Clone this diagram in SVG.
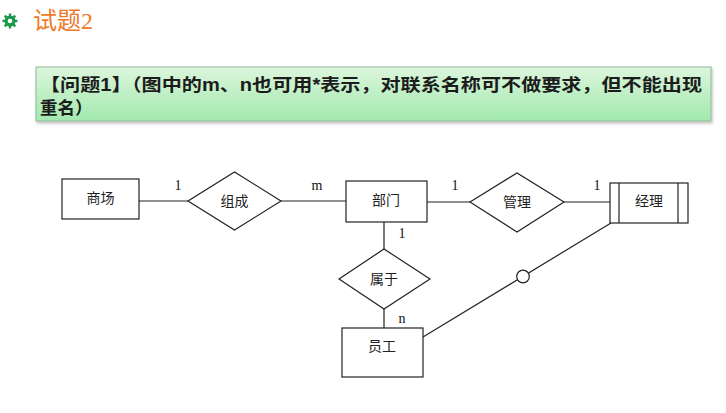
<svg xmlns="http://www.w3.org/2000/svg" width="726" height="413" viewBox="0 0 726 413">
<defs>
<linearGradient id="bg" x1="0" y1="0" x2="0" y2="1">
<stop offset="0" stop-color="#dcf6dc"/>
<stop offset="1" stop-color="#a2e9ae"/>
</linearGradient>
<filter id="sh" x="-5%" y="-20%" width="110%" height="150%">
<feDropShadow dx="1" dy="2" stdDeviation="1.5" flood-color="#000" flood-opacity="0.25"/>
</filter>
<style>
.e{fill:#fff;stroke:#222;stroke-width:1.2}
.c{stroke:#222;stroke-width:1.2;fill:none}
.t{font-family:"Liberation Serif","Noto Sans CJK SC",serif;font-size:14px;fill:#222;text-anchor:middle;dominant-baseline:central}
.l{font-family:"Liberation Serif","Noto Sans CJK SC",serif;font-size:14px;fill:#111;text-anchor:middle}
.b{font-family:"Liberation Sans","Noto Sans CJK SC",sans-serif;font-size:17.5px;font-weight:bold;fill:#1c1c1c}
</style>
</defs>
<rect width="726" height="413" fill="#fff"/>
<g id="title">
<g transform="translate(10,21)" fill="#1a9a4a">
<circle r="5.5"/>
<g stroke="#1a9a4a" stroke-width="2.4">
<line x1="-7.5" y1="0" x2="7.5" y2="0"/><line x1="0" y1="-7.5" x2="0" y2="7.5"/>
<line x1="-5.3" y1="-5.3" x2="5.3" y2="5.3"/><line x1="-5.3" y1="5.3" x2="5.3" y2="-5.3"/>
</g>
<circle r="2.3" fill="#fff"/>
</g>
<text x="33" y="29" font-family="Liberation Serif,'Noto Sans CJK SC',serif" font-size="24" fill="#ee7a2a">试题2</text>
</g>
<g id="banner">
<rect x="36" y="67" width="675" height="54" fill="url(#bg)" stroke="#8fb89a" stroke-width="1" filter="url(#sh)"/>
<text class="b" x="40" y="91" textLength="662" lengthAdjust="spacingAndGlyphs">【问题1】（图中的m、n也可用*表示，对联系名称可不做要求，但不能出现</text>
<text class="b" x="40" y="114">重名）</text>
</g>
<g id="connectors">
<line class="c" x1="139" y1="201" x2="188" y2="201"/>
<line class="c" x1="281" y1="201" x2="346" y2="201"/>
<line class="c" x1="427" y1="202" x2="470" y2="202"/>
<line class="c" x1="564" y1="202" x2="610" y2="202"/>
<line class="c" x1="384" y1="222" x2="384" y2="249"/>
<line class="c" x1="384" y1="309" x2="384" y2="328"/>
<line class="c" x1="423" y1="337" x2="611" y2="223"/>
<circle cx="523" cy="276.5" r="6.3" fill="#fff" stroke="#222" stroke-width="1.2"/>
<text class="l" x="178" y="190">1</text>
<text class="l" x="317" y="190">m</text>
<text class="l" x="455" y="190">1</text>
<text class="l" x="597" y="190">1</text>
<text class="l" x="402" y="238">1</text>
<text class="l" x="402" y="323">n</text>
</g>
<g id="shangchang">
<rect class="e" x="62" y="179" width="77" height="40"/>
<text class="t" x="100.5" y="198">商场</text>
</g>
<g id="zucheng">
<polygon class="e" points="188,201 234.5,172 281,201 234.5,230"/>
<text class="t" x="234.5" y="201">组成</text>
</g>
<g id="bumen">
<rect class="e" x="346" y="181" width="81" height="41"/>
<text class="t" x="386" y="200">部门</text>
</g>
<g id="guanli">
<polygon class="e" points="470,202 517,173 564,202 517,232"/>
<text class="t" x="517" y="202">管理</text>
</g>
<g id="jingli">
<rect class="e" x="610" y="183" width="78" height="40"/>
<line class="c" x1="619" y1="183" x2="619" y2="223"/>
<line class="c" x1="678" y1="183" x2="678" y2="223"/>
<text class="t" x="649" y="201">经理</text>
</g>
<g id="shuyu">
<polygon class="e" points="339,279 384,249 430,279 384,309"/>
<text class="t" x="384" y="279">属于</text>
</g>
<g id="yuangong">
<rect class="e" x="342" y="328" width="81" height="49"/>
<text class="t" x="382" y="346">员工</text>
</g>
</svg>
